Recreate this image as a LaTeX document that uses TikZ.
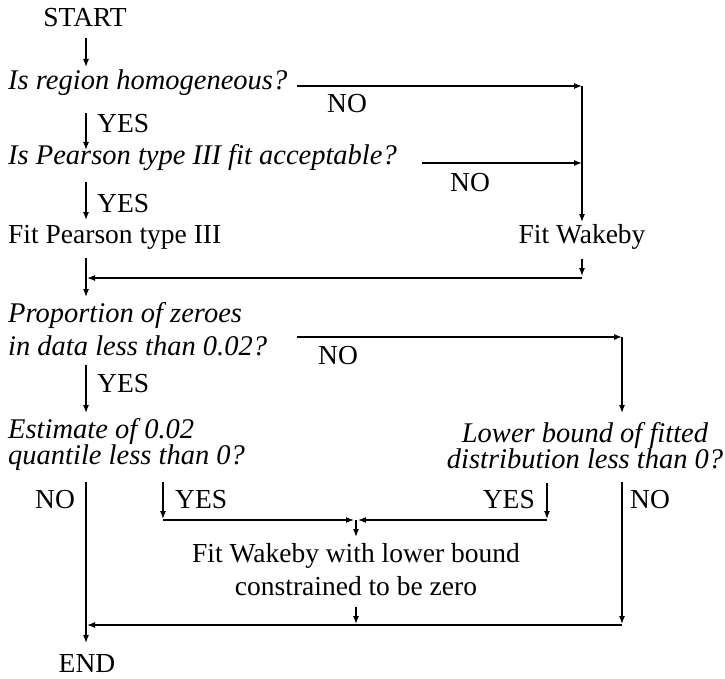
\documentclass[tikz,border=0pt]{standalone}
\usepackage{fontspec}
\setmainfont{Liberation Serif}
\usetikzlibrary{arrows.meta}

\tikzset{
  flow/.style={line width=1.2pt,-{Latex[length=8pt,width=6pt]}},
  ask/.style={inner sep=0pt,font=\fontsize{28.5}{33}\selectfont\itshape},
  asktight/.style={inner sep=0pt,font=\fontsize{28.5}{26}\selectfont\itshape},
  say/.style={inner sep=0pt,font=\fontsize{27.5}{33}\selectfont},
}

\begin{document}
\begin{tikzpicture}[x=1pt,y=-1pt]
\useasboundingbox (0,0) rectangle (725,679);
% questions and steps (two-line nodes sit on their last line):
\node[say,anchor=base] (start) at (85,27) {START};
\node[ask,anchor=base west] (homog) at (8,90) {Is region homogeneous?};
\node[say,anchor=base west] (no1) at (327,113) {NO};
\node[say,anchor=base west] (yes1) at (97,133) {YES};
\node[ask,anchor=base west] (pefit) at (8,165) {Is Pearson type III fit acceptable?};
\node[say,anchor=base west] (no2) at (450,192) {NO};
\node[say,anchor=base west] (yes2) at (97,212) {YES};
\node[say,anchor=base west] (fitpe) at (8,243) {Fit Pearson type III};
\node[say,anchor=base] (fitwak) at (582,243) {Fit Wakeby};
\node[ask,anchor=base west,align=left] (zeros) at (8,355) {Proportion of zeroes\\in data less than 0.02?};
\node[say,anchor=base west] (no3) at (318,364) {NO};
\node[say,anchor=base west] (yes3) at (97,392) {YES};
\node[asktight,anchor=base west,align=left] (estq) at (8,464) {Estimate of 0.02\\quantile less than 0?};
\node[asktight,anchor=base,align=center] (lowb) at (585,468) {Lower bound of fitted\\distribution less than 0?};
\node[say,anchor=base west] (no4) at (35,508) {NO};
\node[say,anchor=base west] (yes4) at (175,508) {YES};
\node[say,anchor=base east] (yes5) at (535,508) {YES};
\node[say,anchor=base west] (no5) at (630,508) {NO};
\node[say,anchor=base,align=center] (fitzero) at (356,595) {Fit Wakeby with lower bound\\constrained to be zero};
\node[say,anchor=base] (end) at (87,672) {END};
% joints of the lines:
\coordinate (s0) at (86,38);
\coordinate (h0) at (297,86);
\coordinate (hk) at (582,86);
\coordinate (y1) at (86,113);
\coordinate (p0) at (422,163);
\coordinate (y2) at (86,182);
\coordinate (w0) at (582,259);
\coordinate (wj) at (582,278);
\coordinate (f0) at (86,258);
\coordinate (z0) at (297,337);
\coordinate (zk) at (622,337);
\coordinate (y3) at (86,365);
\coordinate (e0) at (86,482);
\coordinate (e1) at (163,482);
\coordinate (l1) at (547,483);
\coordinate (l0) at (622,482);
\coordinate (m0) at (356,520);
\coordinate (m1) at (356,607);
\coordinate (bj) at (622,625);
% arrows:
\draw[flow] (s0) -- (86,67);
\draw[flow] (h0) -- (hk);
\draw[flow] (y1) -- (86,150);
\draw[flow] (p0) -- (p0 -| hk);
\draw[flow] (hk) -- (582,222);
\draw[flow] (y2) -- (86,220);
\draw[flow] (w0) -- (582,276);
\draw[flow] (wj) -- (87,278);
\draw[flow] (f0) -- (86,297);
\draw[flow] (z0) -- (zk);
\draw[flow] (zk) -- (622,413);
\draw[flow] (y3) -- (86,413);
\draw[flow] (e1) -- (163,519);
\draw[flow] (163,520) -- (354,520);
\draw[flow] (l1) -- (547,519);
\draw[flow] (547,520) -- (358,520);
\draw[flow] (m0) -- (356,537);
\draw[flow] (m1) -- (356,624);
\draw[flow] (l0) -- (622,624);
\draw[flow] (bj) -- (87,625);
\draw[flow] (e0) -- (86,643);
\end{tikzpicture}
\end{document}
